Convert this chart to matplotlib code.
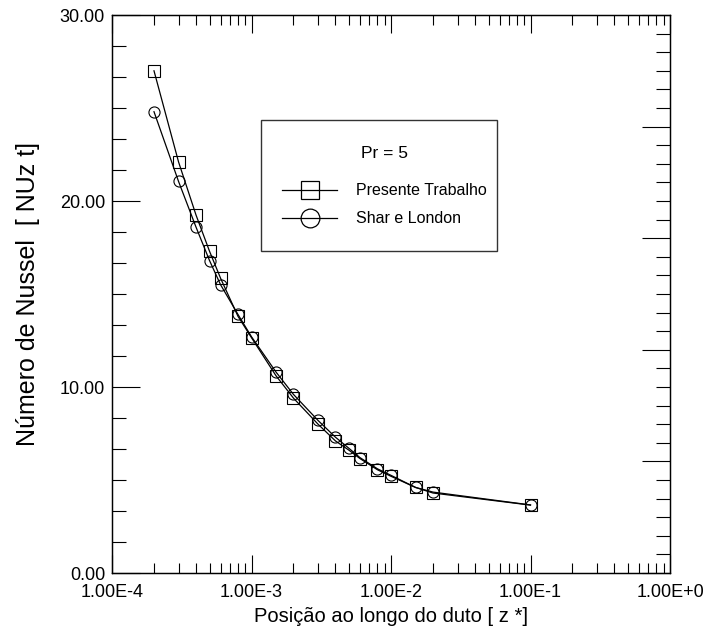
import matplotlib
matplotlib.use("Agg")
import matplotlib.pyplot as plt
from matplotlib.ticker import FixedLocator, MultipleLocator, LogLocator, NullFormatter
from matplotlib.patches import Rectangle
from matplotlib.lines import Line2D

plt.rcParams['font.family'] = ['Liberation Sans', 'DejaVu Sans']

# axial position z* and local Nusselt number
z_pt = [2e-4, 3e-4, 4e-4, 5e-4, 6e-4, 8e-4, 1e-3, 1.5e-3, 2e-3, 3e-3, 4e-3,
        5e-3, 6e-3, 8e-3, 1e-2, 1.5e-2, 2e-2, 1e-1]
nu_pt = [27.0, 22.1, 19.25, 17.3, 15.85, 13.8, 12.65, 10.6, 9.4, 8.0, 7.1,
         6.6, 6.15, 5.55, 5.2, 4.6, 4.3, 3.65]

z_sl = [2e-4, 3e-4, 4e-4, 5e-4, 6e-4, 8e-4, 1e-3, 1.5e-3, 2e-3, 3e-3, 4e-3,
        5e-3, 6e-3, 8e-3, 1e-2, 1.5e-2, 2e-2, 1e-1]
nu_sl = [24.8, 21.05, 18.6, 16.8, 15.5, 13.9, 12.7, 10.8, 9.6, 8.2, 7.3,
         6.7, 6.2, 5.6, 5.25, 4.6, 4.35, 3.66]

x_ticks = [1e-4, 1e-3, 1e-2, 1e-1, 1e0]
x_ticklabels = ['1.00E-4', '1.00E-3', '1.00E-2', '1.00E-1', '1.00E+0']
y_ticks = [0, 10, 20, 30]
y_ticklabels = ['0.00', '10.00', '20.00', '30.00']

fig = plt.figure(figsize=(7.04, 6.37), dpi=100)
ax = fig.add_axes([112 / 704, 1 - 573 / 637, 558 / 704, 558 / 637])

lw = 0.9
ax.plot(z_pt, nu_pt, color='black', lw=lw, marker='s', ms=8.5,
        mfc='none', mec='black', mew=0.8)
ax.plot(z_sl, nu_sl, color='black', lw=lw, marker='o', ms=8,
        mfc='none', mec='black', mew=0.8)

ax.set_xscale('log')
ax.set_xlim(1e-4, 1e0)
ax.set_ylim(0, 30)

ax.xaxis.set_major_locator(FixedLocator(x_ticks))
ax.set_xticklabels(x_ticklabels)
ax.xaxis.set_minor_locator(LogLocator(base=10, subs=range(2, 10)))
ax.xaxis.set_minor_formatter(NullFormatter())
ax.yaxis.set_major_locator(FixedLocator(y_ticks))
ax.set_yticklabels(y_ticklabels)
ax.yaxis.set_minor_locator(MultipleLocator(10 / 6))

ax.tick_params(which='both', direction='in', top=True, right=False,
               labelsize=13, width=0.8, color='black')
ax.tick_params(axis='x', which='major', length=13, pad=8)
ax.tick_params(axis='x', which='minor', length=7)
ax.tick_params(axis='y', which='major', length=20, pad=5)
ax.tick_params(axis='y', which='minor', length=10)

# right axis has its own tick spacing
ax_r = ax.twinx()
ax_r.set_ylim(0, 30)
ax_r.yaxis.set_major_locator(MultipleLocator(6))
ax_r.yaxis.set_minor_locator(MultipleLocator(1))
ax_r.tick_params(which='both', direction='in', labelright=False, width=0.8)
ax_r.tick_params(which='major', length=20)
ax_r.tick_params(which='minor', length=10)

for a in (ax, ax_r):
    for s in a.spines.values():
        s.set_linewidth(0.9)
        s.set_color('black')

ax.set_xlabel('Posição ao longo do duto [ z *]', fontsize=14.5, labelpad=4)
ax.set_ylabel('Número de Nussel  [ NUz t]', fontsize=18, labelpad=14)

# legend box drawn by hand
ax.add_patch(Rectangle((0.267, 0.577), 0.423, 0.235, transform=ax.transAxes,
                       fill=False, edgecolor='#333333', lw=1.0, zorder=5))
leg_font = dict(fontsize=11.5)
ax.text(0.488, 0.752, 'Pr = 5', transform=ax.transAxes, ha='center',
        va='center', fontsize=12.5)
ax.add_line(Line2D([0.304, 0.403], [0.686, 0.686], transform=ax.transAxes,
                   color='black', lw=lw))
ax.add_line(Line2D([0.355], [0.686], transform=ax.transAxes, marker='s',
                   ms=13.5, mfc='none', mec='black', mew=0.9))
ax.text(0.437, 0.686, 'Presente Trabalho', transform=ax.transAxes,
        ha='left', va='center', **leg_font)
ax.add_line(Line2D([0.304, 0.403], [0.636, 0.636], transform=ax.transAxes,
                   color='black', lw=lw))
ax.add_line(Line2D([0.355], [0.636], transform=ax.transAxes, marker='o',
                   ms=13.5, mfc='none', mec='black', mew=0.9))
ax.text(0.437, 0.636, 'Shar e London', transform=ax.transAxes,
        ha='left', va='center', **leg_font)

fig.savefig('out.png', dpi=100)
